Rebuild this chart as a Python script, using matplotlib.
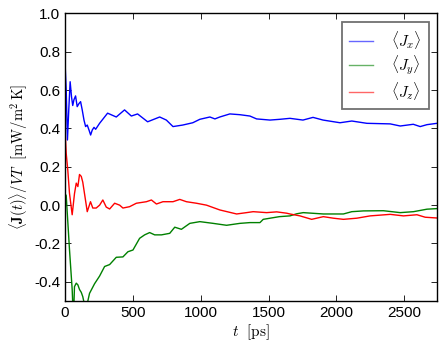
import matplotlib
matplotlib.use("Agg")
import matplotlib.pyplot as plt

plt.rcParams['font.family'] = ['Liberation Sans', 'DejaVu Sans']
plt.rcParams['mathtext.fontset'] = 'cm'

# <J_x>
t_x = [0, 9, 18, 28, 38, 48, 57, 66, 78, 90, 103, 115, 127, 140, 152, 164, 177, 189, 201, 214, 226, 255,
       314, 378, 439, 489, 535, 609, 698, 747, 796, 868, 942, 994, 1068, 1105, 1141, 1215, 1289, 1363,
       1412, 1511, 1585, 1658, 1754, 1828, 1902, 2027, 2114, 2225, 2397, 2471, 2567, 2618, 2668, 2742]
j_x = [0.75, 0.60, 0.34, 0.50, 0.644, 0.566, 0.52, 0.55, 0.57, 0.514, 0.53, 0.54, 0.497, 0.444, 0.41,
       0.418, 0.392, 0.366, 0.392, 0.406, 0.396, 0.427,
       0.48, 0.46, 0.497, 0.465, 0.476, 0.435, 0.46, 0.444, 0.41, 0.418, 0.43, 0.448, 0.46, 0.45, 0.46,
       0.476, 0.472, 0.465, 0.45, 0.444, 0.448, 0.453, 0.444, 0.458, 0.444, 0.43, 0.439, 0.427, 0.424,
       0.413, 0.422, 0.41, 0.42, 0.427]

# <J_y>
t_y = [0, 9, 33, 53, 62, 70, 83, 95, 107, 120, 131, 144, 159, 181, 218, 255, 292, 329, 378, 427, 464,
       501, 550, 587, 624, 661, 711, 772, 809, 858, 920, 994, 1092, 1191, 1289, 1363, 1437, 1461, 1580,
       1658, 1708, 1756, 1904, 2052, 2114, 2200, 2347, 2471, 2569, 2668, 2742]
j_y = [0.06, 0.05, -0.23, -0.44, -0.6, -0.425, -0.407, -0.416, -0.44, -0.455, -0.477, -0.52, -0.53,
       -0.46, -0.41, -0.37, -0.32, -0.31, -0.272, -0.27, -0.243, -0.234, -0.173, -0.155, -0.143, -0.155,
       -0.155, -0.147, -0.115, -0.126, -0.095, -0.086, -0.095, -0.105, -0.095, -0.091, -0.091, -0.074,
       -0.06, -0.056, -0.045, -0.039, -0.046, -0.046, -0.034, -0.03, -0.029, -0.039, -0.034, -0.021, -0.018]

# <J_z>
t_z = [0, 9, 21, 33, 53, 70, 83, 95, 107, 120, 131, 151, 164, 188, 205, 230, 255, 279, 304, 329, 366,
       403, 427, 476, 526, 600, 637, 674, 722, 796, 846, 895, 969, 1043, 1141, 1265, 1338, 1387, 1486,
       1560, 1634, 1658, 1732, 1818, 1904, 1978, 2052, 2151, 2249, 2397, 2495, 2594, 2655, 2742]
j_z = [0.40, 0.27, 0.18, 0.063, -0.05, 0.06, 0.115, 0.097, 0.16, 0.15, 0.12, 0.027, -0.034, 0.018,
       -0.015, -0.015, 0.0, 0.027, -0.01, -0.02, 0.01, 0.0, -0.015, -0.008, 0.01, 0.018, 0.027, 0.006,
       0.018, 0.018, 0.03, 0.018, 0.01, 0.0, -0.025, -0.046, -0.039, -0.034, -0.039, -0.035, -0.042,
       -0.046, -0.056, -0.074, -0.06, -0.068, -0.074, -0.068, -0.056, -0.048, -0.056, -0.05, -0.063, -0.067]

labels = [r'$\langle J_x\rangle$', r'$\langle J_y\rangle$', r'$\langle J_z\rangle$']

fig = plt.figure(figsize=(4.43, 3.47), dpi=100)
ax = fig.add_axes([0.1467, 0.1326, 0.8398, 0.8285])
ax.plot(t_x, j_x, color='b', lw=1.0, label=labels[0])
ax.plot(t_y, j_y, color='g', lw=1.0, label=labels[1])
ax.plot(t_z, j_z, color='r', lw=1.0, label=labels[2])

ax.set_xlim(0, 2742)
ax.set_ylim(-0.5, 1.0)
ax.set_xticks([0, 500, 1000, 1500, 2000, 2500])
ax.set_yticks([-0.4, -0.2, 0.0, 0.2, 0.4, 0.6, 0.8, 1.0])
ax.set_yticklabels(['-0.4', '-0.2', '0.0', '0.2', '0.4', '0.6', '0.8', '1.0'])
ax.tick_params(direction='in', top=True, right=True, labelsize=11, length=4, width=0.6)
for s in ax.spines.values():
    s.set_linewidth(1.0)

ax.set_xlabel(r'$t\ \ [\mathrm{ps}]$', fontsize=11, labelpad=2)
ax.set_ylabel(r'$\langle\mathbf{J}(t)\rangle/VT\ \ [\mathrm{mW}/\mathrm{m}^2\,\mathrm{K}]$', fontsize=10.5, labelpad=3)

leg = ax.legend(loc='upper right', fontsize=11, handlelength=1.6, borderpad=0.45,
                labelspacing=0.2, handletextpad=1.2, fancybox=False, borderaxespad=0.55)
leg.get_frame().set_edgecolor('0.3')
leg.get_frame().set_linewidth(1.3)
for h in leg.get_lines():
    h.set_alpha(0.6)

fig.savefig('out.png', dpi=100)
